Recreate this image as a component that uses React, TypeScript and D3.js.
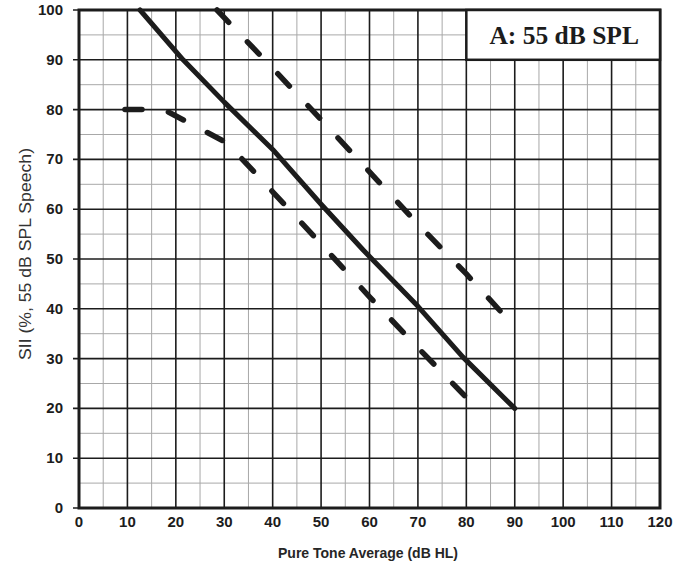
import { useEffect, useRef } from "react";
import * as d3 from "d3";

// values: [pure tone average dB HL, SII %]
const meanLine: [number, number][] = [
  [12.6, 100], [21.5, 90], [30, 81.5], [40, 72], [50, 61], [58.7, 51.8], [70, 40.5], [79.3, 30.3], [90, 20],
];
const upperLine: [number, number][] = [
  [28.5, 100], [40, 88.3], [50, 78], [60, 67.5], [70, 57], [80, 47], [88, 38.5],
];
const lowerLine: [number, number][] = [
  [9.5, 80], [17.5, 80], [30.6, 73.3], [40, 63.5], [50, 53], [60, 42.4], [70, 32.2], [80.2, 22],
];
const xTicks = [0, 10, 20, 30, 40, 50, 60, 70, 80, 90, 100, 110, 120];
const yTicks = [0, 10, 20, 30, 40, 50, 60, 70, 80, 90, 100];
const xMinor = [5, 15, 25, 35, 45, 55, 65, 75, 85, 95, 105, 115];
const yMinor = [5, 15, 25, 35, 45, 55, 65, 75, 85, 95];
const legendText = "A: 55 dB SPL";
const xTitle = "Pure Tone Average (dB HL)";
const yTitle = "SII (%, 55 dB SPL Speech)";

const W = 676;
const H = 567;
const ink = "#1c1c1c";

export default function App() {
  const ref = useRef<SVGSVGElement>(null);

  useEffect(() => {
    const svg = d3.select(ref.current);
    svg.selectAll("*").remove();

    const x = d3.scaleLinear().domain([0, 120]).range([79, 660]);
    const y = d3.scaleLinear().domain([0, 100]).range([508, 10]);

    svg.append("rect").attr("width", W).attr("height", H).attr("fill", "#fff");

    const grid = svg.append("g");
    // minor grid
    grid.selectAll(".vx").data(xMinor).enter().append("line")
      .attr("x1", d => x(d)).attr("x2", d => x(d)).attr("y1", y(0)).attr("y2", y(100))
      .attr("stroke", "#a8a8a8").attr("stroke-width", 1);
    grid.selectAll(".hy").data(yMinor).enter().append("line")
      .attr("y1", d => y(d)).attr("y2", d => y(d)).attr("x1", x(0)).attr("x2", x(120))
      .attr("stroke", "#a8a8a8").attr("stroke-width", 1);
    // major grid
    grid.selectAll(".mx").data(xTicks).enter().append("line")
      .attr("x1", d => x(d)).attr("x2", d => x(d)).attr("y1", y(0)).attr("y2", y(100))
      .attr("stroke", ink).attr("stroke-width", 1.6);
    grid.selectAll(".my").data(yTicks).enter().append("line")
      .attr("y1", d => y(d)).attr("y2", d => y(d)).attr("x1", x(0) - 6).attr("x2", x(120))
      .attr("stroke", ink).attr("stroke-width", 1.6);

    // frame
    svg.append("rect")
      .attr("x", x(0)).attr("y", y(100))
      .attr("width", x(120) - x(0)).attr("height", y(0) - y(100))
      .attr("fill", "none").attr("stroke", ink).attr("stroke-width", 3);

    // legend box
    svg.append("rect")
      .attr("x", x(80)).attr("y", y(100))
      .attr("width", x(120) - x(80)).attr("height", y(90) - y(100))
      .attr("fill", "#fff").attr("stroke", ink).attr("stroke-width", 2.5);
    svg.append("text")
      .attr("x", (x(80) + x(120)) / 2 + 1).attr("y", (y(100) + y(90)) / 2 + 9)
      .attr("text-anchor", "middle")
      .attr("font-family", "Liberation Serif, Times New Roman, serif")
      .attr("font-weight", "bold").attr("font-size", 25.5)
      .attr("fill", ink)
      .text(legendText);

    const line = d3.line<[number, number]>().x(d => x(d[0])).y(d => y(d[1]));

    svg.append("path").attr("d", line(meanLine))
      .attr("fill", "none").attr("stroke", ink).attr("stroke-width", 5)
      .attr("stroke-linecap", "round").attr("stroke-linejoin", "round");

    [upperLine, lowerLine].forEach(pts => {
      svg.append("path").attr("d", line(pts))
        .attr("fill", "none").attr("stroke", ink).attr("stroke-width", 5.5)
        .attr("stroke-linecap", "round").attr("stroke-linejoin", "round")
        .attr("stroke-dasharray", "17 27");
    });

    // tick labels
    svg.selectAll(".xt").data(xTicks).enter().append("text")
      .attr("x", d => x(d)).attr("y", 527)
      .attr("text-anchor", "middle")
      .attr("font-family", "Liberation Sans, Arial, sans-serif")
      .attr("font-weight", "bold").attr("font-size", 15).attr("fill", ink)
      .text(d => d);
    svg.selectAll(".yt").data(yTicks).enter().append("text")
      .attr("x", 63).attr("y", d => y(d) + 5)
      .attr("text-anchor", "end")
      .attr("font-family", "Liberation Sans, Arial, sans-serif")
      .attr("font-weight", "bold").attr("font-size", 15).attr("fill", ink)
      .text(d => d);

    svg.append("text")
      .attr("x", 368).attr("y", 558)
      .attr("text-anchor", "middle")
      .attr("font-family", "Liberation Sans, Arial, sans-serif")
      .attr("font-weight", "bold").attr("font-size", 14).attr("fill", "#262626")
      .text(xTitle);
    svg.append("text")
      .attr("transform", "translate(31,254) rotate(-90)")
      .attr("text-anchor", "middle")
      .attr("font-family", "Liberation Sans, Arial, sans-serif")
      .attr("font-size", 16.5).attr("fill", "#333")
      .attr("textLength", 212).attr("lengthAdjust", "spacingAndGlyphs")
      .text(yTitle);
  }, []);

  return (
    <div>
      <style>{"body{margin:0}"}</style>
      <svg ref={ref} width={W} height={H} style={{ display: "block" }} />
    </div>
  );
}
